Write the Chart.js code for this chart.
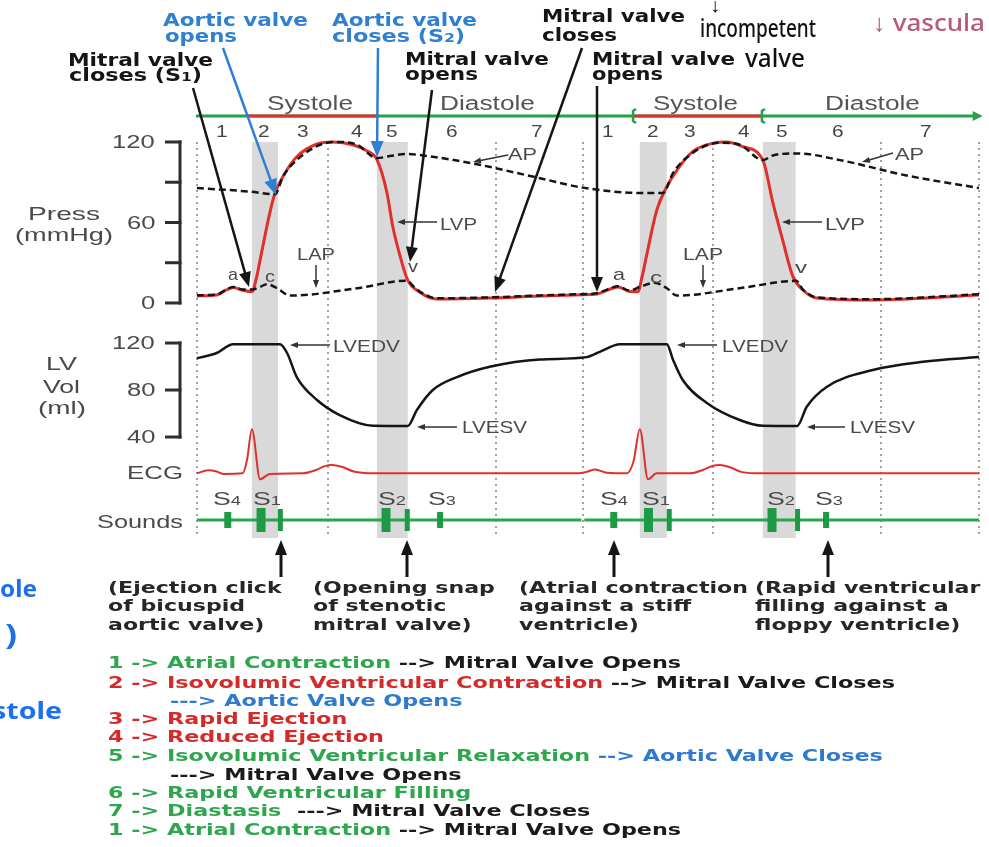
<!DOCTYPE html>
<html><head><meta charset="utf-8">
<script src="https://cdn.jsdelivr.net/npm/chart.js@4.4.1/dist/chart.umd.min.js"></script>
<style>
html,body{margin:0;padding:0;background:#fff;}
#wrap{position:relative;width:989px;height:847px;overflow:hidden;background:#fff;}
#c{position:absolute;left:0;top:0;}
.t{position:absolute;white-space:pre;transform-origin:0 0;}
</style></head><body>
<div id="wrap"><canvas id="c" width="989" height="847"></canvas></div>
<script>
// ---------------- DATA (time in ms) ----------------
const lvpTime   = [0, 41, 60, 75, 95, 114, 124, 131, 151, 162, 178, 207, 249, 282, 323, 352, 373, 394, 406, 425, 437, 462, 497, 607, 711, 800, 829, 850, 873, 897, 914, 923, 933, 953, 970, 995, 1028, 1069, 1098, 1132, 1173, 1194, 1214, 1235, 1256, 1285, 1401, 1621];
const lvpValues = [5.3, 6, 9.5, 11.5, 9.5, 8.4, 19.6, 32, 67, 82, 94, 109, 118.5, 120, 118, 113.5, 107, 82, 57, 30, 17, 8, 3, 3.7, 5.2, 6.2, 6.7, 9.5, 12, 8.6, 8.4, 20, 37, 69, 84, 99, 113, 119, 120, 116.5, 106.5, 74.5, 47, 20, 9.7, 3.7, 2.2, 6];

const apTime   = [0, 110, 162, 178, 193, 249, 290, 332, 373, 400, 435, 468, 572, 711, 800, 918, 966, 987, 1028, 1084, 1125, 1173, 1194, 1244, 1333, 1471, 1621];
const apValues = [85.7, 83, 81, 94, 101.6, 117, 120, 118, 108, 109.5, 111, 110, 104, 93, 86, 82, 82, 97, 112, 119.5, 118, 106.5, 110, 111.5, 106.5, 95, 85.7];

const lapTime   = [0, 41, 60, 75, 95, 114, 131, 145, 166, 193, 332, 435, 450, 462, 497, 607, 711, 800, 829, 850, 873, 897, 918, 949, 974, 995, 1125, 1242, 1256, 1285, 1401, 1621];
const lapValues = [5.8, 6.3, 9.8, 12, 10, 10, 12, 14, 11, 5.5, 11, 16.6, 12, 8.5, 3.5, 4.2, 5.6, 6.6, 7.2, 10, 12.4, 9.2, 12, 15, 11, 5.5, 11, 16.5, 10, 4.2, 2.8, 6.5];

const volTime   = [0, 41, 75, 172, 187, 207, 249, 296, 365, 437, 456, 489, 539, 607, 711, 808, 835, 877, 974, 987, 1007, 1057, 1125, 1173, 1244, 1264, 1306, 1401, 1505, 1621];
const volValues = [107, 111.5, 119, 119, 111.5, 91, 71.5, 58.7, 49.6, 49.4, 63, 80, 91, 99.8, 106, 108, 112.5, 119, 119, 105.5, 88.5, 69, 54.5, 49.6, 49.4, 65.8, 82.8, 97, 104, 108];

const ecgTime   = [0, 23, 41, 54, 95, 104, 114, 131, 151, 220, 245, 265, 280, 300, 325, 365, 790, 808, 825, 850, 891, 905, 918, 935, 953, 1022, 1050, 1070, 1084, 1105, 1130, 1170, 1621];
const ecgValues = [0, 0.1, 0.06, -0.02, 0, 0.45, 1.47, -0.2, -0.02, 0, 0.1, 0.24, 0.28, 0.22, 0.06, 0, 0, 0.05, 0.13, 0.02, 0, 0.4, 1.47, -0.2, 0, 0, 0.12, 0.25, 0.28, 0.2, 0.04, 0, 0];

const soundLineTime   = [0, 797, 800, 803, 1621];
const soundLineValues = [0, 0, null, 0, 0];
const soundTimes = [64, 133, 173, 392, 436, 504, 864, 936, 979, 1192, 1245, 1304];
const soundKinds = ['S4','S1','S1x','S2','S2x','S3','S4','S1','S1x','S2','S2x','S3'];

const bandRanges = [[114,168],[373,437],[918,974],[1173,1241]];
const gridTimes  = [0, 271, 620, 800, 1069, 1418, 1621];
const pressureTicks = [0, 30, 60, 90, 120];
const pressureTickLabels = [0, 60, 120];
const volumeTicks = [40, 80, 120];
const phaseLabels = ['1','2','3','4','5','6','7','1','2','3','4','5','6','7'];
const phaseTimes  = [52, 139, 220, 332, 404, 528, 705, 852, 945, 1022, 1134, 1213, 1329, 1511];
const systoleSpans = [[106,375],[904,1171]];

// ---------------- STYLES ----------------
const GREEN='#22a24a', RED='#e0302c', BLUE='#2f7fd2', INK='#151515', GRAY='#4a4a4a';
const soundStyle = {S4:{r:8,w:7}, S1:{r:12,w:9}, S1x:{r:11,w:5}, S2:{r:12,w:9}, S2x:{r:11,w:5}, S3:{r:8,w:6}};

const pts=(xs,ys)=>xs.map((x,i)=>({x:x,y:ys[i]}));

function arrow(ctx,x1,y1,x2,y2,col,lw,hl,hw){
  const a=Math.atan2(y2-y1,x2-x1);
  const bx=x2-hl*Math.cos(a), by=y2-hl*Math.sin(a);
  ctx.strokeStyle=col; ctx.lineWidth=lw; ctx.setLineDash([]);
  ctx.beginPath(); ctx.moveTo(x1,y1); ctx.lineTo(bx+0.5*Math.cos(a),by+0.5*Math.sin(a)); ctx.stroke();
  ctx.fillStyle=col; ctx.beginPath(); ctx.moveTo(x2,y2);
  ctx.lineTo(bx+hw/2*Math.sin(a), by-hw/2*Math.cos(a));
  ctx.lineTo(bx-hw/2*Math.sin(a), by+hw/2*Math.cos(a));
  ctx.closePath(); ctx.fill();
}

const decor={
  id:'decor',
  beforeDatasetsDraw(chart){
    const ctx=chart.ctx, x=chart.scales.x, yP=chart.scales.yP, yV=chart.scales.yV, yS=chart.scales.yS;
    const top=yP.getPixelForValue(120), bot=yS.getPixelForValue(-18);
    ctx.save();
    ctx.fillStyle='#d9d9d9';
    bandRanges.forEach(([a,b])=>{const xa=x.getPixelForValue(a), xb=x.getPixelForValue(b); ctx.fillRect(xa,top,xb-xa,bot-top);});
    ctx.strokeStyle='#a3a3a3'; ctx.lineWidth=2; ctx.setLineDash([2,4]);
    gridTimes.forEach(t=>{const px=Math.round(x.getPixelForValue(t)); ctx.beginPath(); ctx.moveTo(px,top); ctx.lineTo(px,bot); ctx.stroke();});
    ctx.setLineDash([]);
    const ax=chart.chartArea.left;
    ctx.strokeStyle='#2e2e2e'; ctx.lineWidth=3; ctx.lineCap='butt';
    ctx.beginPath(); ctx.moveTo(ax,yP.getPixelForValue(0)+1.5); ctx.lineTo(ax,yP.getPixelForValue(120)-1.5); ctx.stroke();
    pressureTicks.forEach(v=>{const py=yP.getPixelForValue(v); ctx.beginPath(); ctx.moveTo(ax-15,py); ctx.lineTo(ax+1.5,py); ctx.stroke();});
    ctx.beginPath(); ctx.moveTo(ax,yV.getPixelForValue(40)+1.5); ctx.lineTo(ax,yV.getPixelForValue(120)-1.5); ctx.stroke();
    volumeTicks.forEach(v=>{const py=yV.getPixelForValue(v); ctx.beginPath(); ctx.moveTo(ax-15,py); ctx.lineTo(ax+1.5,py); ctx.stroke();});
    const yb=116, x0=x.getPixelForValue(-2), xe=x.getPixelForValue(1612);
    ctx.lineWidth=3; ctx.strokeStyle=GREEN;
    ctx.beginPath(); ctx.moveTo(x0,yb); ctx.lineTo(xe,yb); ctx.stroke();
    ctx.strokeStyle=RED;
    systoleSpans.forEach(([a,b])=>{ctx.beginPath(); ctx.moveTo(x.getPixelForValue(a),yb); ctx.lineTo(x.getPixelForValue(b),yb); ctx.stroke();});
    ctx.fillStyle=GREEN; ctx.beginPath(); ctx.moveTo(xe+8,yb); ctx.lineTo(xe-2,yb-5); ctx.lineTo(xe-2,yb+5); ctx.closePath(); ctx.fill();
    ctx.strokeStyle=GREEN; ctx.lineWidth=2.5;
    [systoleSpans[1][0], systoleSpans[1][1]].forEach(t=>{const px=x.getPixelForValue(t);
      ctx.beginPath(); ctx.moveTo(px+3,yb-7); ctx.lineTo(px,yb-5); ctx.lineTo(px,yb+5); ctx.lineTo(px+3,yb+7); ctx.stroke();});
    ctx.restore();
  },
  afterDatasetsDraw(chart){
    const ctx=chart.ctx; ctx.save(); ctx.lineCap='butt';
    arrow(ctx,193,88,249,287,INK,2.5,15,12);
    arrow(ctx,223,48,276,195,BLUE,2.5,16,13);
    arrow(ctx,378,48,377,157,BLUE,2.5,16,13);
    arrow(ctx,432,90,410,262,INK,2.5,15,12);
    arrow(ctx,582,48,495,292,INK,2.5,15,12);
    arrow(ctx,597,86,597,292,INK,2.5,15,12);
    [281,407,614,828].forEach(px=>arrow(ctx,px,577,px,540,INK,3,15,12));
    const L='#333';
    arrow(ctx,508,155,473,162,L,1.5,8,6);
    arrow(ctx,893,153,862,162,L,1.5,8,6);
    arrow(ctx,437,222,397,222,L,1.5,8,6);
    arrow(ctx,822,222,782,222,L,1.5,8,6);
    arrow(ctx,316,265,316,288,L,1.5,8,6);
    arrow(ctx,703,265,703,288,L,1.5,8,6);
    arrow(ctx,330,345,290,345,L,1.5,8,6);
    arrow(ctx,717,345,677,345,L,1.5,8,6);
    arrow(ctx,457,427,417,427,L,1.5,8,6);
    arrow(ctx,845,427,807,427,L,1.5,8,6);
    ctx.restore();
  }
};

const chart=new Chart(document.getElementById('c'),{
  type:'line',
  data:{datasets:[
    {label:'AP', data:pts(apTime,apValues), yAxisID:'yP', borderColor:INK, borderWidth:2.5, borderDash:[7,4], order:1},
    {label:'LAP', data:pts(lapTime,lapValues), yAxisID:'yP', borderColor:INK, borderWidth:2.5, borderDash:[7,4], order:1},
    {label:'LVP', data:pts(lvpTime,lvpValues), yAxisID:'yP', borderColor:RED, borderWidth:3, order:2},
    {label:'LV Vol', data:pts(volTime,volValues), yAxisID:'yV', borderColor:INK, borderWidth:2.5, order:3},
    {label:'ECG', data:pts(ecgTime,ecgValues), yAxisID:'yE', borderColor:RED, borderWidth:2, order:3},
    {type:'scatter', label:'Sounds', data:soundTimes.map(t=>({x:t,y:0})), yAxisID:'yS',
      pointStyle:'line', pointRotation:90,
      pointRadius:soundKinds.map(k=>soundStyle[k].r), pointBorderWidth:soundKinds.map(k=>soundStyle[k].w),
      pointBorderColor:'#1c9a45', pointBackgroundColor:'#1c9a45', order:2},
    {label:'Sound line', data:pts(soundLineTime,soundLineValues), yAxisID:'yS', borderColor:'#27a84d', borderWidth:3, spanGaps:false, order:4}
  ]},
  options:{
    responsive:false, animation:false, events:[], devicePixelRatio:1,
    layout:{padding:{left:180,right:10,top:120,bottom:302}, autoPadding:false},
    plugins:{legend:{display:false}, tooltip:{enabled:false}, title:{display:false}},
    elements:{point:{radius:0}, line:{cubicInterpolationMode:'monotone', fill:false}},
    scales:{
      x:{type:'linear', min:-35, max:1621, display:false},
      yP:{type:'linear', min:-180.4, max:136.4, display:false},
      yV:{type:'linear', min:-51.9, max:309.8, display:false},
      yE:{type:'linear', min:-2.39, max:11.78, display:false},
      yS:{type:'linear', min:-25, max:400, display:false}
    }
  },
  plugins:[decor]
});

// ---------------- TEXT ----------------
const wrap=document.getElementById('wrap');
const ARIAL="'Liberation Sans', Arial, sans-serif", VERD="'DejaVu Sans', Verdana, sans-serif", HAND="'Noto Sans', sans-serif";
function addText(o){
  const d=document.createElement('div'); d.className='t'; d.innerHTML=o.t;
  const size=o.size||16;
  d.style.fontFamily=o.fam||ARIAL; d.style.fontSize=size+'px'; d.style.lineHeight=size+'px';
  d.style.fontWeight=o.bold?'bold':(o.wt||'normal'); d.style.color=o.c||GRAY;
  d.style.top=(o.b-0.846*size)+'px'; d.style.left='0px';
  wrap.appendChild(d);
  const nat=d.getBoundingClientRect().width;
  const s=o.s||(o.w?o.w/nat:1);
  const wd=nat*s; let left=o.x;
  if(o.align==='right') left=o.x-wd; else if(o.align==='center') left=o.x-wd/2;
  d.style.left=left+'px'; d.style.transform='scaleX('+s+')';
  return {s:s};
}
const sub=n=>'<span style="font-size:68%">'+n+'</span>';

[
  ['Aortic valve',163,26,145,BLUE],['opens',165,42,72,BLUE],
  ['Aortic valve',332,26,145,BLUE],['closes (S'+sub(2)+')',332,42.5,133,BLUE],
  ['Mitral valve',68,66,145,INK],['closes (S'+sub(1)+')',69,81,133,INK],
  ['Mitral valve',405,65,144,INK],['opens',405,80,73,INK],
  ['Mitral valve',542,22,143,INK],['closes',542,41,75,INK],
  ['Mitral valve',592,65,143,INK],['opens',592,80,71,INK]
].forEach(a=>addText({t:a[0],x:a[1],b:a[2],w:a[3],c:a[4],size:18,fam:VERD,bold:true}));

[['Systole',267,86],['Diastole',440,95],['Systole',653,85],['Diastole',825,95]]
  .forEach(a=>addText({t:a[0],x:a[1],b:110,w:a[2],size:20,c:'#555'}));
phaseLabels.forEach((p,i)=>addText({t:p,x:chart.scales.x.getPixelForValue(phaseTimes[i]),b:138,size:16,s:1.3,align:'center',c:'#444'}));

pressureTickLabels.forEach(v=>addText({t:String(v),x:155,b:chart.scales.yP.getPixelForValue(v)+6.5,size:18,s:1.42,align:'right'}));
volumeTicks.forEach(v=>addText({t:String(v),x:155,b:chart.scales.yV.getPixelForValue(v)+6.5,size:18,s:1.42,align:'right'}));
addText({t:'Press',x:28,b:220,w:72,size:19});
addText({t:'(mmHg)',x:15,b:241,w:98,size:19});
addText({t:'LV',x:46,b:370,w:31,size:19});
addText({t:'Vol',x:43,b:393,w:37,size:19});
addText({t:'(ml)',x:38,b:414,w:48,size:19});
addText({t:'ECG',x:127,b:479,w:56,size:18});
addText({t:'Sounds',x:97,b:528,w:86,size:18});

[
  ['AP',508,160,29],['AP',895,160,29],['LVP',440,230,37],['LVP',825,230,40],
  ['LAP',297,260,38],['LAP',683,260,40],['LVEDV',333,352,67],['LVEDV',722,352,66],
  ['LVESV',462,433,65],['LVESV',850,433,65],
  ['a',228,280,10],['c',265,282,10],['v',408,272,10],['a',613,280,12],['c',650,283,12],['v',795,273,12]
].forEach(a=>addText({t:a[0],x:a[1],b:a[2],w:a[3],size:17}));

[['S'+sub(4),213],['S'+sub(1),253],['S'+sub(2),378],['S'+sub(3),428],['S'+sub(4),600],['S'+sub(1),642],['S'+sub(2),767],['S'+sub(3),815]]
  .forEach(a=>addText({t:a[0],x:a[1],b:505,w:28,size:19}));

const noteRef=addText({t:'(Atrial contraction',x:519,b:594,w:229,size:16,fam:VERD,bold:true,c:'#262626'});
[
  ['(Ejection click',108,594],['of bicuspid',108,612],['aortic valve)',108,631],
  ['(Opening snap',313,594],['of stenotic',313,612],['mitral valve)',313,631],
  ['against a stiff',519,612],['ventricle)',519,631],
  ['(Rapid ventricular',755,594],['filling against a',755,612],['floppy ventricle)',755,631]
].forEach(a=>addText({t:a[0],x:a[1],b:a[2],s:noteRef.s,size:16,fam:VERD,bold:true,c:'#262626'}));

const LG='#2ea64e', LR='#d32a2a', LB='#2f7ad0', LK='#1a1a1a';
const legendLines=[
  [108,669,[['1 -> Atrial Contraction',LG],[' --> Mitral Valve Opens',LK]]],
  [108,689,[['2 -> Isovolumic Ventricular Contraction',LR],[' --> Mitral Valve Closes',LK]]],
  [170,707,[['---> Aortic Valve Opens',LB]]],
  [108,725,[['3 -> Rapid Ejection',LR]]],
  [108,743,[['4 -> Reduced Ejection',LR]]],
  [108,762,[['5 -> Isovolumic Ventricular Relaxation',LG],[' --> Aortic Valve Closes',LB]]],
  [170,781,[['---> Mitral Valve Opens',LK]]],
  [108,799,[['6 -> Rapid Ventricular Filling',LG]]],
  [108,817,[['7 -> Diastasis',LG],['  ---> Mitral Valve Closes',LK]]],
  [108,836,[['1 -> Atrial Contraction',LG],[' --> Mitral Valve Opens',LK]]]
];
const esc=s=>s.replace(/&/g,'&amp;').replace(/</g,'&lt;').replace(/>/g,'&gt;');
const lineHtml=l=>l[2].map(sg=>'<span style="color:'+sg[1]+'">'+esc(sg[0])+'</span>').join('');
const legRef=addText({t:lineHtml(legendLines[1]),x:108,b:689,w:787,size:16,fam:VERD,bold:true});
legendLines.forEach((l,i)=>{ if(i!==1) addText({t:lineHtml(l),x:l[0],b:l[1],s:legRef.s,size:16,fam:VERD,bold:true}); });

// handwritten notes
addText({t:'↓',x:710,b:12,size:20,c:'#111',fam:HAND,wt:'600'});
addText({t:'incompetent',x:700,b:36,w:116,size:25,c:'#111',fam:HAND,wt:'500'});
addText({t:'valve',x:745,b:66,w:60,size:25,c:'#111',fam:HAND,wt:'500'});
addText({t:'↓ vascula',x:873,b:30,w:112,size:24,c:'#b4587c',fam:HAND,wt:'500'});
addText({t:'ole',x:0,b:596,w:37,size:23,c:'#1e6ff0',fam:HAND,bold:true});
addText({t:')',x:5,b:644,w:12,size:28,c:'#1e6ff0',fam:HAND,bold:true});
addText({t:'stole',x:-8,b:718,w:70,size:23,c:'#1e6ff0',fam:HAND,bold:true});
</script></body></html>
